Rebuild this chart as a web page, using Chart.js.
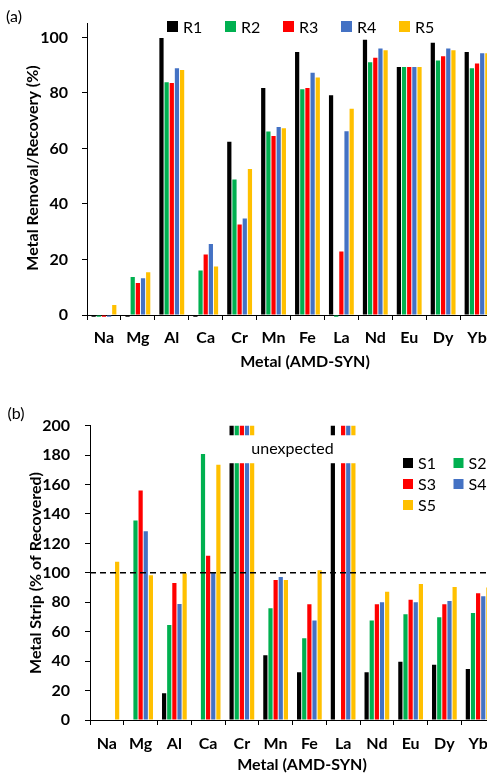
<!DOCTYPE html>
<html>
<head>
<meta charset="utf-8">
<script src="https://cdn.jsdelivr.net/npm/chart.js@4.4.0/dist/chart.umd.min.js"></script>
<style>
  html, body { margin: 0; padding: 0; background: #fff; }
  #wrap { position: relative; width: 487px; height: 773px; overflow: hidden; }
  #wrap canvas { position: absolute; left: 0; }
  #chartA { top: 0; }
  #chartB { top: 385px; }
</style>
</head>
<body>
<div id="wrap">
  <canvas id="chartA" width="512" height="385"></canvas>
  <canvas id="chartB" width="512" height="388"></canvas>
</div>
<script>
// Data
const CATEGORIES = ['Na', 'Mg', 'Al', 'Ca', 'Cr', 'Mn', 'Fe', 'La', 'Nd', 'Eu', 'Dy', 'Yb'];

// (a) removal / recovery, %
const R_LABELS = ['R1', 'R2', 'R3', 'R4', 'R5'];
const R1 = [-0.6, -0.6, 99.8, -0.6, 62.4, 81.8, 94.8, 79.2, 99.2, 89.4, 98.1, 94.8];
const R2 = [-0.6, 13.7, 83.9, 16.0, 48.8, 66.1, 81.3, -0.6, 91.1, 89.4, 91.7, 88.9];
const R3 = [-0.6, 11.5, 83.6, 21.8, 32.6, 64.5, 81.8, 22.9, 92.7, 89.4, 93.2, 90.6];
const R4 = [-0.6, 13.2, 88.9, 25.6, 34.8, 67.7, 87.3, 66.2, 96.0, 89.4, 96.0, 94.3];
const R5 = [3.6, 15.4, 88.3, 17.5, 52.6, 67.3, 85.6, 74.3, 95.4, 89.4, 95.4, 94.3];
const R_TICKS = [0, 20, 40, 60, 80, 100];

// (b) strip, % of recovered. Cr and La run off the top of the axis ("unexpected")
const OFF = 250;
const S_LABELS = ['S1', 'S2', 'S3', 'S4', 'S5'];
const S1 = [null, null, 18.1, null, OFF, 44.0, 32.4, OFF, 32.4, 39.6, 37.6, 34.7];
const S2 = [null, 135.5, 64.6, 180.8, OFF, 75.9, 55.5, null, 67.7, 71.8, 69.8, 72.7];
const S3 = [null, 155.9, 93.1, 111.7, OFF, 95.1, 78.6, OFF, 78.6, 81.8, 78.6, 86.1];
const S4 = [null, 128.2, 78.8, 100.4, OFF, 97.2, 67.7, OFF, 80.0, 80.0, 80.9, 84.1];
const S5 = [107.6, 98.3, 99.7, 173.5, OFF, 95.1, 101.7, OFF, 87.2, 92.4, 90.4, 90.0];
const S_TICKS = [0, 20, 40, 60, 80, 100, 120, 140, 160, 180, 200];

const REF_LINE = 100;
const BREAK_LO = 174.5;
const BREAK_HI = 193.5;

const COLORS = ['#000000', '#00B050', '#FF0000', '#4472C4', '#FFC000'];
const FONT = 'Lato, "Liberation Sans", sans-serif';

// legend laid out in a grid (row first, like the excel one)
const gridLegend = {
    id: 'gridLegend',
    afterDraw(chart, args, o) {
        const ctx = chart.ctx;
        ctx.save();
        ctx.font = o.font;
        ctx.textAlign = 'left';
        ctx.textBaseline = 'middle';
        chart.data.datasets.forEach((ds, i) => {
            const col = i % o.cols;
            const row = Math.floor(i / o.cols);
            const bx = o.x + col * o.colStep;
            const by = o.y + row * o.rowStep;
            ctx.fillStyle = ds.backgroundColor;
            ctx.fillRect(bx, by, o.box, o.box);
            ctx.fillStyle = '#000';
            ctx.fillText(ds.label, bx + o.box + o.gap, by + o.box / 2 + 1);
        });
        ctx.restore();
    }
};

// axis titles and panel letters
const figureText = {
    id: 'figureText',
    afterDraw(chart, args, o) {
        const ctx = chart.ctx;
        (o.items || []).forEach(t => {
            ctx.save();
            ctx.fillStyle = '#000';
            ctx.font = t.font;
            ctx.textAlign = 'center';
            ctx.textBaseline = 'middle';
            ctx.translate(t.x, t.y);
            if (t.rotate) ctx.rotate(t.rotate);
            ctx.fillText(t.text, 0, 0);
            ctx.restore();
        });
    }
};

// broken-axis band over the off-scale bars + dashed 100% line
const stripExtras = {
    id: 'stripExtras',
    afterDatasetsDraw(chart, args, o) {
        const ctx = chart.ctx;
        const x = chart.scales.x;
        const y = chart.scales.y;
        const area = chart.chartArea;
        const half = (x.getPixelForValue(1) - x.getPixelForValue(0)) / 2;
        const left = x.getPixelForValue(CATEGORIES.indexOf(o.from)) - half;
        const right = x.getPixelForValue(CATEGORIES.indexOf(o.to)) + half;
        const top = y.getPixelForValue(o.hi);
        const bottom = y.getPixelForValue(o.lo);

        ctx.save();
        ctx.fillStyle = '#fff';
        ctx.fillRect(left, top, right - left, bottom - top);
        ctx.fillStyle = '#000';
        ctx.font = o.font;
        ctx.textAlign = 'center';
        ctx.textBaseline = 'middle';
        ctx.fillText(o.text, (left + right) / 2, (top + bottom) / 2);

        const yl = y.getPixelForValue(o.line);
        ctx.strokeStyle = '#000';
        ctx.lineWidth = 1.5;
        ctx.setLineDash([6, 4]);
        ctx.beginPath();
        ctx.moveTo(area.left, yl);
        ctx.lineTo(area.right, yl);
        ctx.stroke();
        ctx.restore();
    }
};

function buildSets(labels, series, clip) {
    return series.map((data, i) => ({
        label: labels[i],
        data: data,
        backgroundColor: COLORS[i],
        categoryPercentage: 0.76,
        barPercentage: 0.82,
        clip: clip
    }));
}

function axes(yMax, yTicks, yWidth, tickPadY, tickPadX) {
    return {
        x: {
            grid: { offset: true, drawOnChartArea: false, drawTicks: true, tickLength: 5, color: '#000' },
            border: { color: '#000', width: 1 },
            ticks: { color: '#000', font: { family: FONT, size: 16, weight: 'bold' }, padding: tickPadX, maxRotation: 0, autoSkip: false },
            afterFit: s => { s.height = 35; }
        },
        y: {
            min: 0,
            max: yMax,
            grid: { drawOnChartArea: false, drawTicks: true, tickLength: 5, color: '#000' },
            border: { color: '#000', width: 1 },
            ticks: { color: '#000', font: { family: FONT, size: 16, weight: 'bold' }, padding: tickPadY },
            afterBuildTicks: s => { s.ticks = yTicks.map(v => ({ value: v })); },
            afterFit: s => { s.width = yWidth; }
        }
    };
}

// (a)
new Chart(document.getElementById('chartA'), {
    type: 'bar',
    data: { labels: CATEGORIES, datasets: buildSets(R_LABELS, [R1, R2, R3, R4, R5], 5) },
    options: {
        responsive: false,
        animation: false,
        layout: { padding: { left: 0, right: 18, top: 20, bottom: 35 } },
        scales: axes(105, R_TICKS, 87, 14, 8),
        plugins: {
            legend: { display: false },
            tooltip: { enabled: false },
            gridLegend: { x: 167, y: 21, box: 11, gap: 5, cols: 5, colStep: 58, rowStep: 0, font: '16px ' + FONT },
            figureText: {
                items: [
                    { text: '(a)', x: 14, y: 17, font: '16px ' + FONT },
                    { text: 'Metal Removal/Recovery (%)', x: 33, y: 168, rotate: -Math.PI / 2, font: 'bold 16px ' + FONT },
                    { text: 'Metal (AMD-SYN)', x: 305, y: 362, font: 'bold 16px ' + FONT }
                ]
            }
        }
    },
    plugins: [gridLegend, figureText]
});

// (b)
new Chart(document.getElementById('chartB'), {
    type: 'bar',
    data: { labels: CATEGORIES, datasets: buildSets(S_LABELS, [S1, S2, S3, S4, S5], 0) },
    options: {
        responsive: false,
        animation: false,
        layout: { padding: { left: 0, right: 17, top: 40.7, bottom: 18 } },
        scales: axes(200, S_TICKS, 90, 15, 9),
        plugins: {
            legend: { display: false },
            tooltip: { enabled: false },
            gridLegend: { x: 403, y: 73, box: 10, gap: 5, cols: 2, colStep: 50.5, rowStep: 21, font: '16px ' + FONT },
            stripExtras: { from: 'Cr', to: 'La', lo: BREAK_LO, hi: BREAK_HI, line: REF_LINE, text: 'unexpected', font: '16px ' + FONT },
            figureText: {
                items: [
                    { text: '(b)', x: 16, y: 29, font: '16px ' + FONT },
                    { text: 'Metal Strip (% of Recovered)', x: 36, y: 188, rotate: -Math.PI / 2, font: 'bold 16px ' + FONT },
                    { text: 'Metal (AMD-SYN)', x: 302, y: 380, font: 'bold 16px ' + FONT }
                ]
            }
        }
    },
    plugins: [stripExtras, gridLegend, figureText]
});
</script>
</body>
</html>
